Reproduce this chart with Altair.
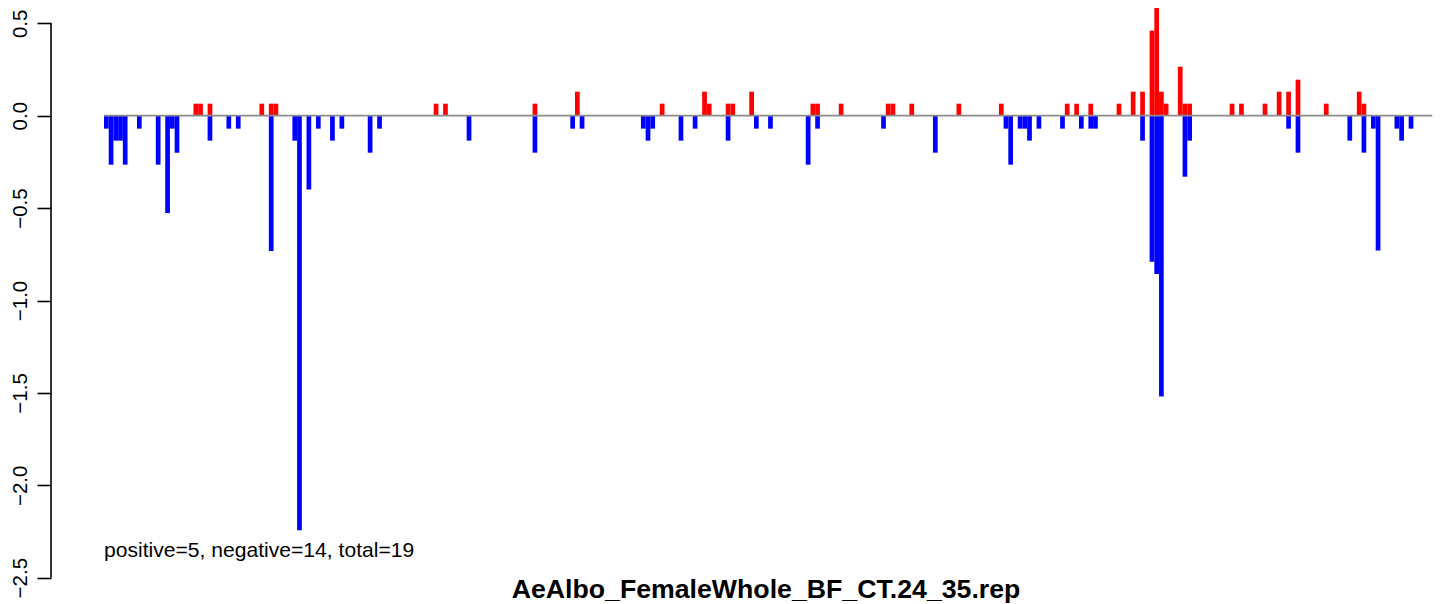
import altair as alt
import pandas as pd

# positive (red) bars: bin index and value
pos_idx = [19, 20, 22, 33, 35, 36, 70, 72, 91, 100, 118, 127, 128, 132, 133, 137,
           150, 151, 156, 166, 167, 171, 181, 190, 204, 206, 209, 215, 218, 220,
           222, 223, 224, 225, 228, 229, 230, 239, 241, 246, 249, 251, 253, 259,
           266, 267]
pos_val = [0.065, 0.065, 0.065, 0.065, 0.065, 0.065, 0.065, 0.065, 0.065, 0.13,
           0.065, 0.13, 0.065, 0.065, 0.065, 0.13, 0.065, 0.065, 0.065, 0.065,
           0.065, 0.065, 0.065, 0.065, 0.065, 0.065, 0.065, 0.065, 0.13, 0.13,
           0.46, 0.66, 0.13, 0.065, 0.265, 0.065, 0.065, 0.065, 0.065, 0.065,
           0.13, 0.13, 0.195, 0.065, 0.13, 0.065]

# negative (blue) bars: bin index and value
neg_idx = [0, 1, 2, 3, 4, 7, 11, 13, 14, 15, 22, 26, 28, 35, 40, 41, 43, 45, 48,
           50, 56, 58, 77, 91, 99, 101, 114, 115, 116, 122, 125, 132, 138, 141,
           149, 151, 165, 176, 191, 192, 194, 195, 196, 198, 203, 207, 209, 210,
           220, 222, 223, 224, 229, 230, 251, 253, 264, 267, 269, 270, 274, 275,
           277]
neg_val = [-0.07, -0.265, -0.135, -0.135, -0.265, -0.07, -0.265, -0.527, -0.07,
           -0.2, -0.135, -0.07, -0.07, -0.732, -0.135, -2.243, -0.40, -0.07,
           -0.135, -0.07, -0.2, -0.07, -0.135, -0.2, -0.07, -0.07, -0.07, -0.135,
           -0.07, -0.135, -0.07, -0.135, -0.07, -0.07, -0.265, -0.07, -0.07, -0.2,
           -0.07, -0.265, -0.07, -0.07, -0.135, -0.07, -0.07, -0.07, -0.07, -0.07,
           -0.135, -0.79, -0.857, -1.52, -0.33, -0.135, -0.07, -0.2, -0.135, -0.2,
           -0.07, -0.73, -0.07, -0.135, -0.07]

n_bins = 282
y_ticks = [0.5, 0.0, -0.5, -1.0, -1.5, -2.0, -2.5]
title_text = "AeAlbo_FemaleWhole_BF_CT.24_35.rep"
note_text = "positive=5, negative=14, total=19"

df = pd.DataFrame({
    "idx": pos_idx + neg_idx,
    "val": pos_val + neg_val,
    "sign": ["pos"] * len(pos_idx) + ["neg"] * len(neg_idx),
})
df["idx2"] = df["idx"] + 1

FONT = "Liberation Sans"
W, H = 1385, 570

xscale = alt.Scale(domain=[-11.253, 282.803], nice=False, zero=False)
yscale = alt.Scale(domain=[-2.5016, 0.5828], nice=False, zero=False)

bars = alt.Chart(df).mark_rect(clip=True, strokeWidth=0).encode(
    x=alt.X("idx:Q", scale=xscale, axis=None),
    x2="idx2:Q",
    y=alt.Y("val:Q", scale=yscale,
            axis=alt.Axis(values=y_ticks, format=".1f", domain=False, grid=False,
                          tickSize=14, tickWidth=1.6, tickColor="black",
                          labelAngle=270, labelAlign="center",
                          labelBaseline="alphabetic", labelPadding=10.5,
                          labelFontSize=20.5, labelFont=FONT, labelColor="black",
                          labelFlush=False, labelOverlap=False, title=None)),
    y2=alt.datum(0),
    color=alt.Color("sign:N",
                    scale=alt.Scale(domain=["pos", "neg"], range=["#FF0000", "#0000FF"]),
                    legend=None),
)

zero_line = alt.Chart(pd.DataFrame({"z": [0]})).mark_rule(
    color="#8c8c8c", strokeWidth=1.8
).encode(
    x=alt.XDatum(0, axis=None),
    x2=alt.X2Datum(n_bins),
    y=alt.YDatum(0),
)

axis_line = alt.Chart(pd.DataFrame({"z": [0]})).mark_rule(
    color="black", strokeWidth=1.6
).encode(
    x=alt.value(0),
    y=alt.YDatum(max(y_ticks)),
    y2=alt.Y2Datum(min(y_ticks)),
)

note = alt.Chart(pd.DataFrame({"t": [note_text]})).mark_text(
    align="left", baseline="alphabetic", fontSize=21.1, font=FONT, color="black"
).encode(
    x=alt.XDatum(0, axis=None),
    y=alt.YDatum(-2.386),
    text="t:N",
)

title = alt.Chart(pd.DataFrame({"t": [title_text]})).mark_text(
    align="center", baseline="alphabetic", fontSize=26.7, font=FONT,
    fontWeight="bold", color="black"
).encode(
    x=alt.value(715),
    y=alt.value(589.7),
    text="t:N",
)

chart = alt.layer(bars, zero_line, axis_line, note, title).properties(
    width=W, height=H,
    padding={"left": 43, "top": 0, "right": 0, "bottom": 26},
    autosize=alt.AutoSizeParams(type="none"),
).configure_view(stroke=None)

chart.save("out.html", embed_options={"renderer": "svg", "actions": False})
